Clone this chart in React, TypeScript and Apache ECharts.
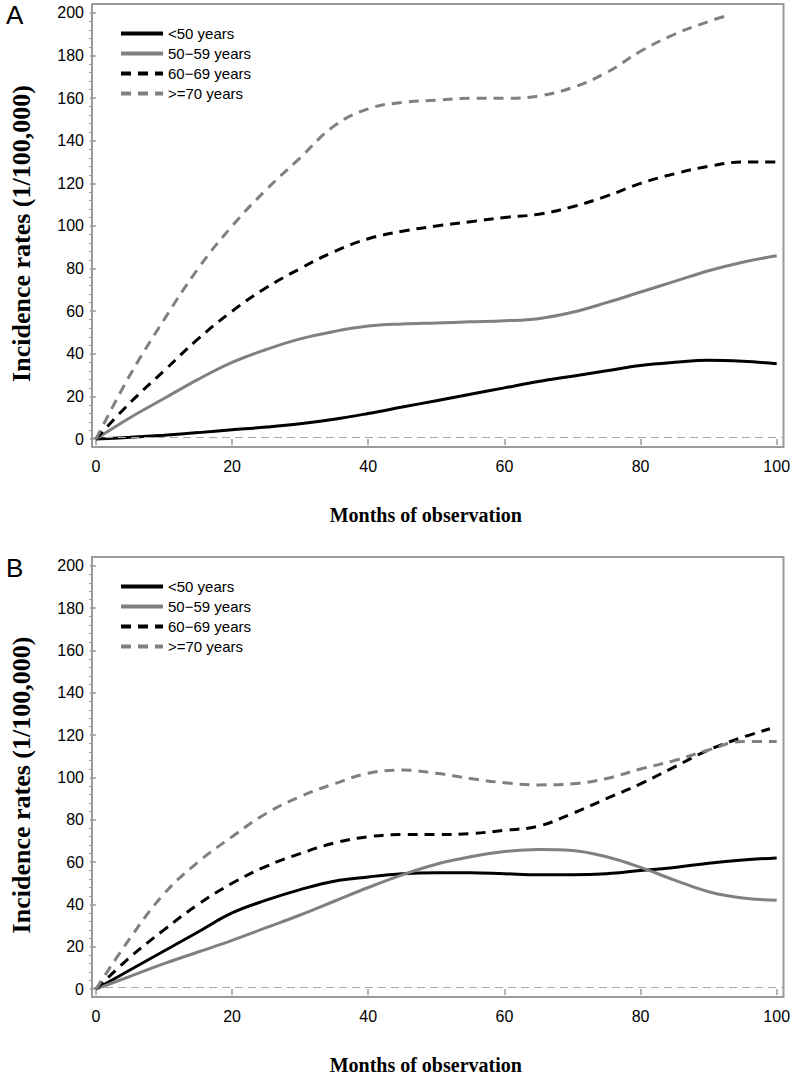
import React, { useEffect, useRef } from "react";
import * as echarts from "echarts";

const seriesNames = ["<50 years", "50\u221259 years", "60\u221269 years", ">=70 years"];
const xTickValues = [0, 20, 40, 60, 80, 100];
const yTickValues = [0, 20, 40, 60, 80, 100, 120, 140, 160, 180, 200];
const yMinorValues = [4, 8, 12, 16, 24, 28, 32, 36, 44, 48, 52, 56, 64, 68, 72, 76, 84, 88, 92, 96, 104, 108, 112, 116, 124, 128, 132, 136, 144, 148, 152, 156, 164, 168, 172, 176, 184, 188, 192, 196];

// Panel A
const monthsA = [0, 5, 10, 15, 20, 25, 30, 35, 40, 45, 50, 55, 60, 65, 70, 75, 80, 85, 90, 95, 100];
const a_lt50 = [0, 0.8, 1.8, 3, 4.3, 5.6, 7.2, 9.3, 12, 15, 18, 21, 24, 27, 29.5, 32, 34.5, 36, 37, 36.5, 35.3];
const a_50_59 = [0, 10, 19, 28, 36, 42, 47, 50.5, 53, 54, 54.5, 55, 55.5, 56.5, 59.5, 64, 69, 74, 79, 83, 86];
const a_60_69 = [0, 17, 32, 47, 60, 71, 80, 88, 94, 97.5, 100, 102, 104, 105.5, 109, 114, 120, 124.5, 128, 130, 130];
const monthsA70 = [0, 5, 10, 15, 20, 25, 30, 35, 40, 45, 50, 55, 60, 65, 70, 75, 80, 85, 90, 93];
const a_ge70 = [0, 30, 56, 80, 100, 117, 132, 147, 155, 158, 159, 160, 160, 161, 165, 172, 182, 190, 196, 199];

// Panel B
const monthsB = [0, 5, 10, 15, 20, 25, 30, 35, 40, 45, 50, 55, 60, 65, 70, 75, 80, 85, 90, 95, 100];
const b_lt50 = [0, 9, 18, 27, 36, 42, 47, 51, 53, 54.5, 55, 55, 54.5, 54, 54, 54.5, 56, 57.5, 59.5, 61, 62];
const b_50_59 = [0, 6, 12, 17.5, 23, 29, 35, 41.5, 48, 54, 59, 62.5, 65, 66, 65.5, 62.5, 57.5, 51.5, 46, 43, 42];
const monthsB60 = [0, 5, 10, 15, 20, 25, 30, 35, 40, 45, 50, 55, 60, 65, 70, 75, 80, 85, 90, 95, 99];
const b_60_69 = [0, 15, 28, 40, 50, 58, 64, 69, 72, 73, 73, 73.5, 75, 77, 83, 90, 97, 105, 113, 119, 123];
const b_ge70 = [0, 24, 45, 60, 72, 83, 91, 97, 102, 103.5, 102, 99.5, 97.5, 96.5, 97, 99.5, 104, 108, 113, 117, 117];

const refLevel = 1;

const pair = (xs: number[], ys: number[]) => xs.map((x, i) => [x, ys[i]]);

const styles = [
  { color: "#000000", type: "solid" },
  { color: "#808080", type: "solid" },
  { color: "#000000", type: [10, 7] },
  { color: "#808080", type: [10, 7] },
];

const FRAME = "#9a9a9a";

export default function App() {
  const ref = useRef<HTMLDivElement>(null);
  useEffect(() => {
    if (!ref.current) return;
    const chart = echarts.init(ref.current, undefined, { renderer: "svg" });
    const panelTop = [4, 557];
    const grids = panelTop.map((t) => ({
      left: 88,
      top: t,
      width: 696,
      height: 443,
      show: true,
      borderColor: FRAME,
      borderWidth: 2,
      backgroundColor: "transparent",
    }));
    const xAxes = [0, 1].map((g) => ({
      type: "value",
      gridIndex: g,
      min: -0.58,
      max: 101,
      name: "Months of observation",
      nameLocation: "middle",
      nameGap: 58,
      nameTextStyle: { fontFamily: "Liberation Serif", fontSize: 20, fontWeight: "bold", color: "#000", padding: [0, 24, 0, 0] },
      axisLine: { show: false },
      axisTick: { show: true, length: 6, customValues: xTickValues, lineStyle: { color: FRAME, width: 1.5 } },
      axisLabel: { customValues: xTickValues, margin: 11, fontFamily: "Liberation Sans", fontSize: 16, color: "#000" },
      splitLine: { show: false },
    }));
    const yAxes: any[] = [];
    [0, 1].forEach((g) => {
      yAxes.push({
        type: "value",
        gridIndex: g,
        min: -3.75,
        max: 204.2,
        name: "Incidence rates (1/100,000)",
        nameLocation: "middle",
        nameGap: 58,
        nameTextStyle: { fontFamily: "Liberation Serif", fontSize: 26, fontWeight: "bold", color: "#000", padding: [0, 16, 0, 0] },
        axisLine: { show: false },
        axisTick: { show: true, length: 6, customValues: yTickValues, lineStyle: { color: FRAME, width: 1.5 } },
        axisLabel: { customValues: yTickValues, margin: 8, fontFamily: "Liberation Sans", fontSize: 16, color: "#000" },
        splitLine: { show: false },
      });
      yAxes.push({
        type: "value",
        gridIndex: g,
        min: -3.75,
        max: 204.2,
        position: "left",
        axisLine: { show: false },
        axisTick: { show: true, length: 3, customValues: yMinorValues, lineStyle: { color: FRAME, width: 1 } },
        axisLabel: { show: false },
        splitLine: { show: false },
      });
    });

    const panels = [
      [pair(monthsA, a_lt50), pair(monthsA, a_50_59), pair(monthsA, a_60_69), pair(monthsA70, a_ge70)],
      [pair(monthsB, b_lt50), pair(monthsB, b_50_59), pair(monthsB60, b_60_69), pair(monthsB, b_ge70)],
    ];
    const series: any[] = [];
    panels.forEach((data, g) => {
      data.forEach((d, i) => {
        const s: any = {
          type: "line",
          name: seriesNames[i],
          xAxisIndex: g,
          yAxisIndex: g * 2,
          data: d,
          smooth: 0.4,
          symbol: "none",
          lineStyle: { color: styles[i].color, width: 3, type: styles[i].type },
          itemStyle: { color: styles[i].color },
          z: 3 + i,
        };
        if (i === 0) {
          s.markLine = {
            silent: true,
            symbol: "none",
            label: { show: false },
            lineStyle: { color: "#a8a8a8", width: 1.2, type: [8, 5] },
            data: [{ yAxis: refLevel }],
          };
        }
        series.push(s);
      });
    });

    const legends = panelTop.map((t) => ({
      orient: "vertical",
      left: 114,
      top: t + 17,
      itemWidth: 42,
      itemHeight: 14,
      itemGap: 5,
      data: seriesNames,
      selectedMode: false,
      itemStyle: { opacity: 0 },
      lineStyle: { width: 4 },
      textStyle: { fontFamily: "Liberation Sans", fontSize: 15, color: "#000" },
    }));

    chart.setOption({
      animation: false,
      backgroundColor: "#fff",
      grid: grids,
      xAxis: xAxes,
      yAxis: yAxes,
      legend: legends,
      series,
      graphic: [
        { type: "text", left: 6, top: 2, style: { text: "A", fontFamily: "Liberation Sans", fontSize: 26, fill: "#000" } },
        { type: "text", left: 6, top: 555, style: { text: "B", fontFamily: "Liberation Sans", fontSize: 26, fill: "#000" } },
      ],
    });
    return () => chart.dispose();
  }, []);
  return <div ref={ref} style={{ position: "absolute", left: 0, top: 0, width: 793, height: 1076 }} />;
}
